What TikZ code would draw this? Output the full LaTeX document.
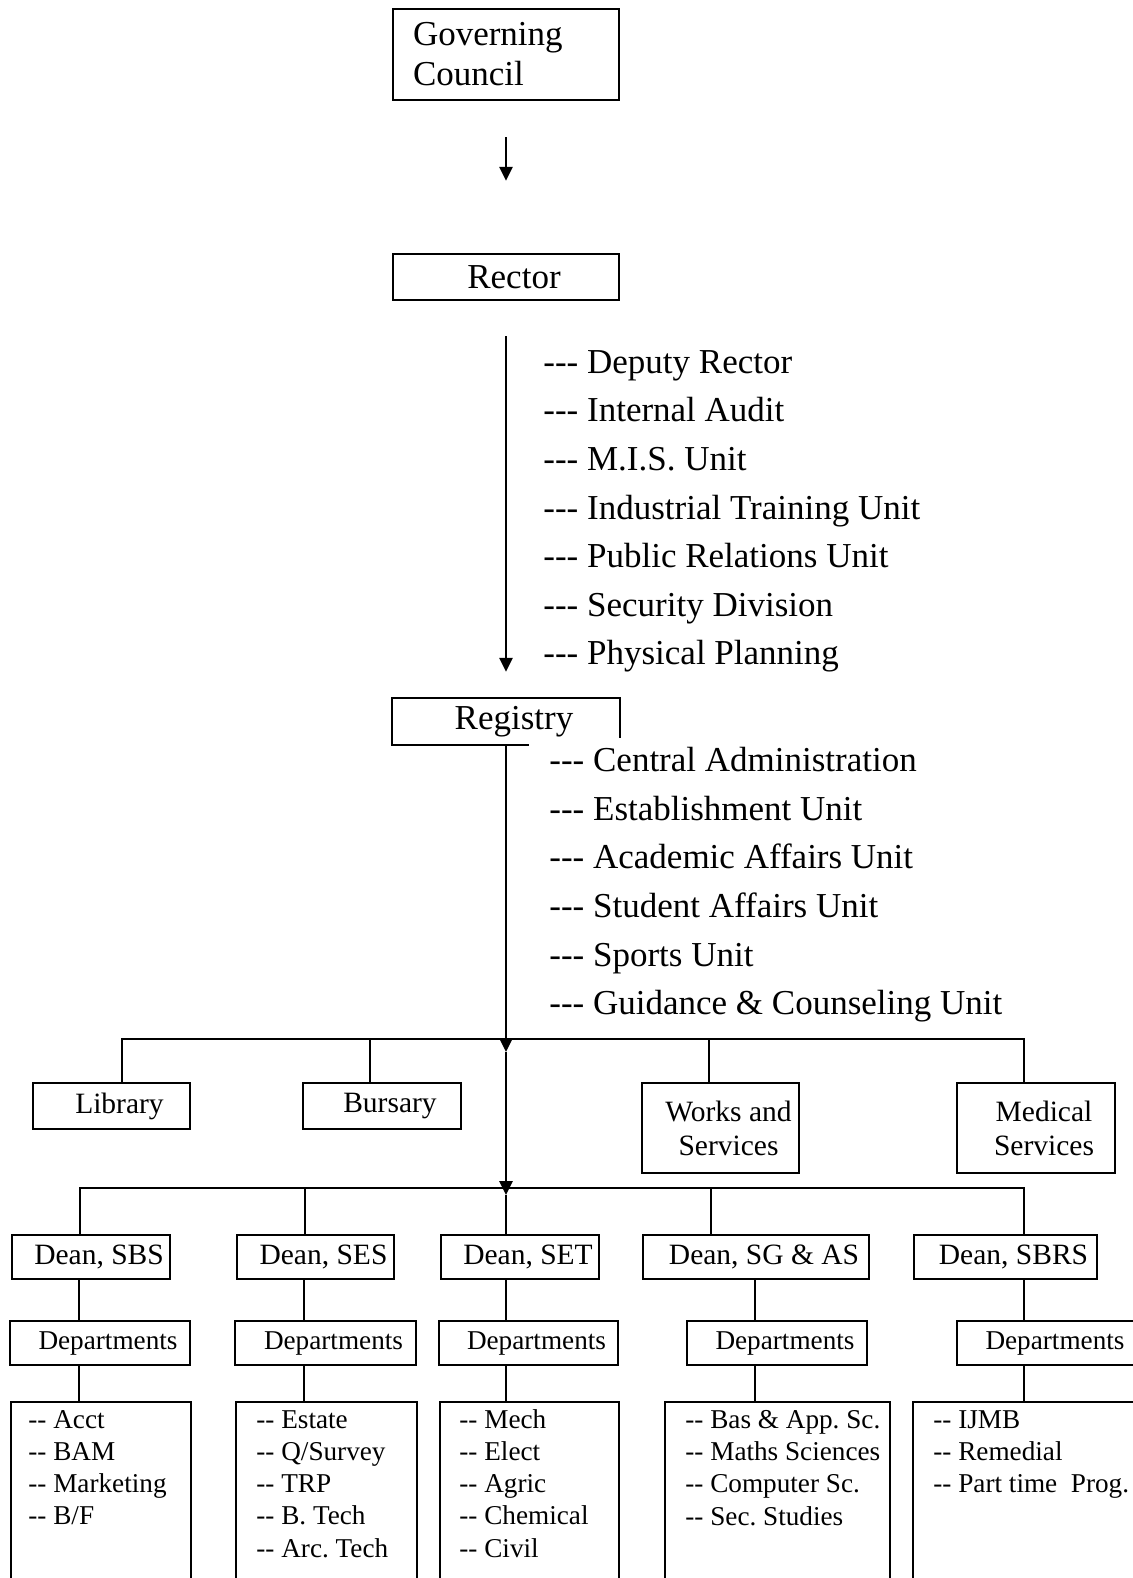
\documentclass[tikz,border=0pt]{standalone}
\usepackage{fontspec}
\setmainfont[Ligatures=TeXOff]{Liberation Serif}
\usetikzlibrary{arrows.meta}

\begin{document}
\frenchspacing
\begin{tikzpicture}[x=0.5pt,y=-0.5pt]
	\tikzset{frame/.style={draw, line width=1.2pt, inner sep=0pt, minimum height=23pt}}
	\tikzset{unitbox/.style={frame, execute at begin node={\hspace*{8pt}}}}
	\tikzset{bigtext/.style={font=\fontsize{17.5pt}{20pt}\selectfont}}
	\tikzset{listtext/.style={font=\fontsize{17.5pt}{24.3pt}\selectfont, align=left, inner sep=0pt, anchor=north west}}
	\tikzset{midtext/.style={font=\fontsize{14.75pt}{17pt}\selectfont}}
	\tikzset{smalltext/.style={font=\fontsize{13.6pt}{16.1pt}\selectfont}}
	\tikzset{listbox/.style={draw, line width=1.2pt, inner sep=0pt, minimum height=100pt, anchor=north west}}
	\tikzset{items/.style={smalltext, align=left, inner sep=0pt, anchor=north west}}
	\tikzset{link/.style={line width=0.9pt}}
	\tikzset{mainline/.style={line width=1.3pt}}
	\tikzset{flow/.style={mainline, -{Triangle[length=7pt,width=6.5pt]}}}
	\useasboundingbox (0,0) rectangle (1133,1578);

	% council, rector, registry
	\node[frame, bigtext, minimum width=113pt, minimum height=45.5pt, text width=93pt, align=left] (gc) at (506,54.5) {Governing\\Council};
	\node[unitbox, bigtext, minimum width=113pt] (rector) at (506,277) {Rector};
	\node[unitbox, bigtext, draw=none, minimum width=113pt, minimum height=22.5pt] (reg) at (506,721.5) {Registry};
	\draw[line width=1.2pt] ([yshift=-20pt]reg.north east) -- (reg.north east) -- (reg.north west) -- (reg.south west) -- ++(137,0);

	\node[listtext] (rlist) at (543,350) {--- Deputy Rector\\--- Internal Audit\\--- M.I.S. Unit\\--- Industrial Training Unit\\--- Public Relations Unit\\--- Security Division\\--- Physical Planning};
	\node[listtext] (glist) at (549,747) {--- Central Administration\\--- Establishment Unit\\--- Academic Affairs Unit\\--- Student Affairs Unit\\--- Sports Unit\\--- Guidance \& Counseling Unit};

	% service units
	\node[unitbox, midtext, minimum width=78.5pt] (lib) at (111.5,1106) {Library};
	\node[unitbox, midtext, minimum width=79pt] (bur) at (382,1106) {Bursary};
	\node[frame, midtext, minimum width=78.5pt, minimum height=45pt, align=center] (works) at (720.5,1128) {\hspace*{8pt}Works and\\\hspace*{8pt}Services};
	\node[frame, midtext, minimum width=79pt, minimum height=45pt, align=center] (med) at (1036,1128) {\hspace*{8pt}Medical\\\hspace*{8pt}Services};

	% deans
	\node[unitbox, midtext, minimum width=79pt, minimum height=22pt] (dsbs) at (91,1257) {Dean, SBS};
	\node[unitbox, midtext, minimum width=78.5pt, minimum height=22pt] (dses) at (315.5,1257) {Dean, SES};
	\node[unitbox, midtext, minimum width=79pt, minimum height=22pt] (dset) at (520,1257) {Dean, SET};
	\node[unitbox, midtext, minimum width=113pt, minimum height=22pt] (dsgas) at (756,1257) {Dean, SG \& AS};
	\node[unitbox, midtext, minimum width=91.5pt, minimum height=22pt] (dsbrs) at (1005.5,1257) {Dean, SBRS};

	\node[unitbox, smalltext, minimum width=90pt, minimum height=22pt] (psbs) at (100,1343) {Departments};
	\node[unitbox, smalltext, minimum width=90.5pt, minimum height=22pt] (pses) at (325.5,1343) {Departments};
	\node[unitbox, smalltext, minimum width=89.5pt, minimum height=22pt] (pset) at (528.5,1343) {Departments};
	\node[unitbox, smalltext, minimum width=90pt, minimum height=22pt] (psgas) at (777,1343) {Departments};
	\node[unitbox, smalltext, minimum width=90pt, minimum height=22pt] (psbrs) at (1047,1343) {Departments};

	\node[listbox, minimum width=90pt] (lsbs) at (10,1401) {};
	\node[listbox, minimum width=90.5pt] (lses) at (235,1401) {};
	\node[listbox, minimum width=89.5pt] (lset) at (439,1401) {};
	\node[listbox, minimum width=112.5pt] (lsgas) at (664,1401) {};
	\node[listbox, minimum width=115pt] (lsbrs) at (912,1401) {};
	\node[items] (isbs) at ([xshift=9pt,yshift=-4.5pt]lsbs.north west) {-- Acct\\-- BAM\\-- Marketing\\-- B/F};
	\node[items] (ises) at ([xshift=10.5pt,yshift=-4.5pt]lses.north west) {-- Estate\\-- Q/Survey\\-- TRP\\-- B. Tech\\-- Arc. Tech};
	\node[items] (iset) at ([xshift=10pt,yshift=-4pt]lset.north west) {-- Mech\\-- Elect\\-- Agric\\-- Chemical\\-- Civil};
	\node[items] (isgas) at ([xshift=10.5pt,yshift=-4.5pt]lsgas.north west) {-- Bas \& App. Sc.\\-- Maths Sciences\\-- Computer Sc.\\-- Sec. Studies};
	\node[items] (isbrs) at ([xshift=10.5pt,yshift=-4.5pt]lsbrs.north west) {-- IJMB\\-- Remedial\\-- Part time\ \ Prog.};

	% main line
	\coordinate (b1) at (506,1039);
	\coordinate (b2) at (506,1188);
	\draw[flow] ([yshift=-18pt]gc.south) -- ([yshift=36pt]rector.north);
	\draw[flow] ([yshift=-17.5pt]rector.south) -- ([yshift=13pt]reg.north);
	\draw[flow] (reg.south) -- ([yshift=-6.5pt]b1);
	\draw[flow] ([yshift=-6.5pt]b1) -- ([yshift=-3.5pt]b2);
	\draw[mainline] ([yshift=-3.5pt]b2) -- (b2 |- dset.north);

	% branches
	\coordinate (clib) at (122,0);
	\coordinate (cbur) at (370,0);
	\coordinate (cwks) at (709,0);
	\coordinate (cmed) at (1024,0);
	\draw[link] (clib |- lib.north) |- (b1) -| (cmed |- med.north);
	\draw[link] (cbur |- b1) -- (cbur |- bur.north);
	\draw[link] (cwks |- b1) -- (cwks |- works.north);

	\coordinate (k1) at (80,0);
	\coordinate (k2) at (305,0);
	\coordinate (k4) at (711,0);
	\coordinate (k5) at (1024,0);
	\draw[link] (k1 |- dsbs.north) |- (b2) -| (k5 |- dsbrs.north);
	\draw[link] (k2 |- b2) -- (k2 |- dses.north);
	\draw[link] (k4 |- b2) -- (k4 |- dsgas.north);

	\coordinate (m1) at (79,0);
	\coordinate (m2) at (304,0);
	\coordinate (m3) at (506,0);
	\coordinate (m4) at (755,0);
	\coordinate (m5) at (1024,0);
	\draw[link] (m1 |- dsbs.south) -- (m1 |- psbs.north);
	\draw[link] (m1 |- psbs.south) -- (m1 |- lsbs.north);
	\draw[link] (m2 |- dses.south) -- (m2 |- pses.north);
	\draw[link] (m2 |- pses.south) -- (m2 |- lses.north);
	\draw[link] (m3 |- dset.south) -- (m3 |- pset.north);
	\draw[link] (m3 |- pset.south) -- (m3 |- lset.north);
	\draw[link] (m4 |- dsgas.south) -- (m4 |- psgas.north);
	\draw[link] (m4 |- psgas.south) -- (m4 |- lsgas.north);
	\draw[link] (m5 |- dsbrs.south) -- (m5 |- psbrs.north);
	\draw[link] (m5 |- psbrs.south) -- (m5 |- lsbrs.north);
\end{tikzpicture}
\end{document}
